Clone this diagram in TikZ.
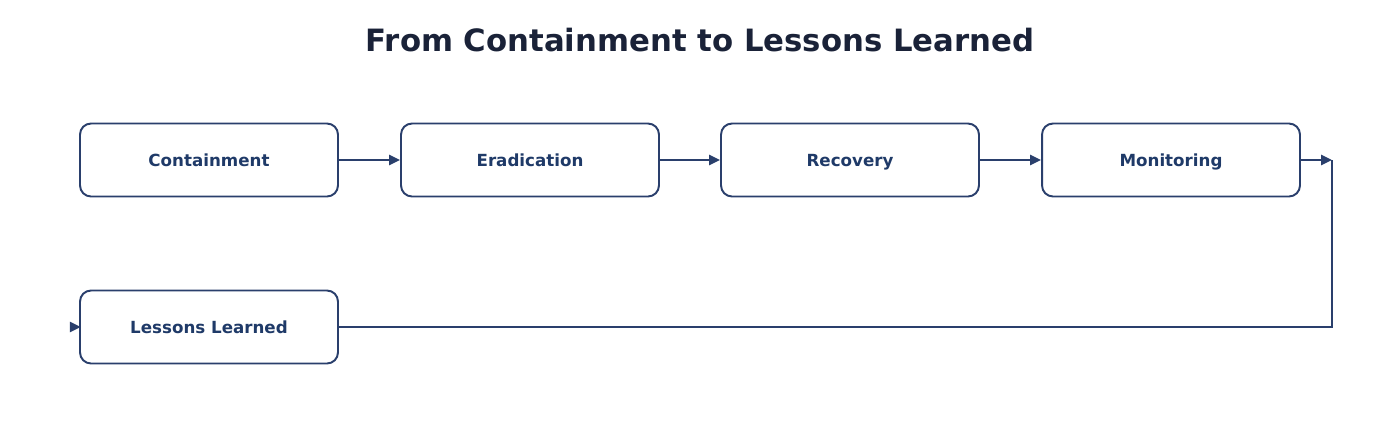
\documentclass[tikz,border=0pt]{standalone}
\usepackage{fontspec}
\setmainfont{DejaVu Sans}
\usetikzlibrary{arrows.meta,backgrounds}
\definecolor{titlenavy}{HTML}{1A2238}
\definecolor{boxnavy}{HTML}{2A3F6C}
\definecolor{textnavy}{HTML}{1F3A68}
\tikzset{
  phase/.style={draw=boxnavy, line width=1.1pt, fill=white, rounded corners=0.22cm,
    minimum width=5.16cm, minimum height=1.46cm, inner sep=0pt,
    text height=0.73em, text depth=0pt,
    font=\fontsize{9.5}{11}\selectfont\bfseries, text=textnavy},
  flow/.style={draw=boxnavy, line width=1.5pt, -{Triangle[length=0.22cm,width=0.2cm]}}
}
\begin{document}
\begin{tikzpicture}[x=0.02cm,y=-0.02cm]
				\useasboundingbox (0,0) rectangle (1400,420);
				\def\rowi{160}
				\def\rowii{327}
				\node[font=\fontsize{17.5}{21}\selectfont\bfseries, text=titlenavy] (title) at (700,40) {From Containment to Lessons Learned};
				
				\node[phase] (contain) at (209,\rowi) {Containment};
				\node[phase] (eradic) at (530,\rowi) {Eradication};
				\node[phase] (recov) at (850,\rowi) {Recovery};
				\node[phase] (monit) at (1171,\rowi) {Monitoring};
				\node[phase] (lessons) at (209,\rowii) {Lessons Learned};
				\coordinate (turn) at (1332,\rowi);
				\coordinate (turnii) at (1332,\rowii);
				\coordinate (lessonsin) at (70,\rowii);
				
				\draw[flow] (contain) -- (eradic);
				\draw[flow] (eradic) -- (recov);
				\draw[flow] (recov) -- (monit);
				\draw[flow] (monit) -- (turn);
				\begin{scope}[on background layer]
				\draw[flow,-] (turn) -- (turnii) -- (lessons.center);
				\end{scope}
				\draw[flow] (lessonsin) -- ([xshift=1]lessons.west);
			\end{tikzpicture}
\end{document}
